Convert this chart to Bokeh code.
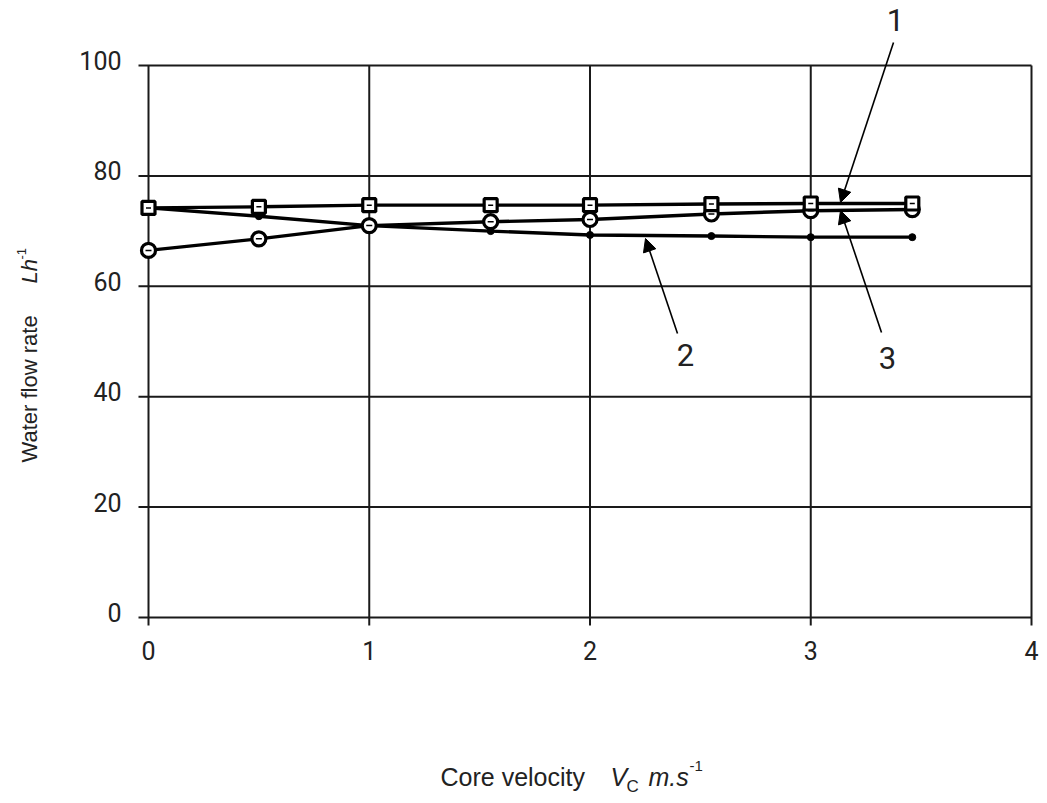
import math
from bokeh.plotting import figure
from bokeh.models import Range1d, Label, Arrow, NormalHead, ColumnDataSource
from bokeh.embed import file_html
from bokeh.resources import INLINE

# ---- data ----
velocity = [0, 0.5, 1.0, 1.55, 2.0, 2.55, 3.0, 3.46]
series1 = [74.2, 74.4, 74.7, 74.7, 74.7, 74.9, 75.0, 75.0]   # squares
series2 = [74.2, 72.7, 71.0, 70.0, 69.3, 69.1, 68.9, 68.9]   # dots
series3 = [66.5, 68.6, 71.0, 71.7, 72.1, 73.1, 73.7, 73.9]   # circles
x_ticks = [0, 1, 2, 3, 4]
y_ticks = [0, 20, 40, 60, 80, 100]
x_tick_labels = ["0", "1", "2", "3", "4"]
y_tick_labels = ["0", "20", "40", "60", "80", "100"]

INK = "#1a1a1a"
TC = "#222222"
W, H = 1047, 803
LEFT, RIGHT_PX, BOTTOM_PX, TOP_PX = 148, 1031, 617, 65
px_per_x = (RIGHT_PX - LEFT) / 4.0
px_per_y = (BOTTOM_PX - TOP_PX) / 100.0

p = figure(width=W, height=H, output_backend="svg", toolbar_location=None,
           x_range=Range1d(-LEFT / px_per_x, (W - LEFT) / px_per_x),
           y_range=Range1d(-(H - BOTTOM_PX) / px_per_y, BOTTOM_PX / px_per_y),
           x_axis_location=None, y_axis_location=None,
           min_border=0)
p.outline_line_color = None
p.grid.visible = False
p.background_fill_color = "white"
p.border_fill_color = "white"


def dx(px):
    return (px - LEFT) / px_per_x


def dy(py):
    return (BOTTOM_PX - py) / px_per_y


y_hi = y_ticks[-1]
x_hi = x_ticks[-1]

# grid / frame lines, with outward ticks
p.segment(x0=x_ticks, y0=[-8 / px_per_y] * len(x_ticks), x1=x_ticks, y1=[y_hi] * len(x_ticks),
          line_color=INK, line_width=2)
p.segment(x0=[-10 / px_per_x] * len(y_ticks), y0=y_ticks, x1=[x_hi] * len(y_ticks), y1=y_ticks,
          line_color=INK, line_width=2)

# tick labels
p.text(x=[dx(121)] * len(y_ticks), y=[t + 5 / px_per_y for t in y_ticks], text=y_tick_labels,
       text_align="right", text_baseline="middle", text_font={"value": "Roboto"},
       text_font_size="25px", text_color=TC)
p.text(x=x_ticks, y=[dy(650)] * len(x_ticks), text=x_tick_labels,
       text_align="center", text_baseline="middle", text_font={"value": "Roboto"},
       text_font_size="25px", text_color=TC)

src = ColumnDataSource(dict(x=velocity, s1=series1, s2=series2, s3=series3))

LW = 3.4
p.line("x", "s2", source=src, line_color="black", line_width=LW)
p.line("x", "s3", source=src, line_color="black", line_width=LW)
p.line("x", "s1", source=src, line_color="black", line_width=LW)

p.scatter("x", "s2", source=src, marker="circle", size=7, fill_color="black", line_color="black")
p.scatter("x", "s3", source=src, marker="circle", size=14, fill_color="white",
          line_color="black", line_width=3.2)
p.scatter("x", "s3", source=src, marker="dash", size=6, line_color="black", line_width=1.5)
p.scatter("x", "s1", source=src, marker="square", size=13, fill_color="white",
          line_color="black", line_width=3.2)
p.scatter("x", "s1", source=src, marker="dash", size=5, line_color="black", line_width=1.5)

# callout arrows and numbers
callouts = [("1", (895, 19), (893, 42), (840, 202)),
            ("2", (685, 354), (677, 333), (645, 238)),
            ("3", (887, 357), (881, 332), (840, 210))]
for txt, (lx, ly), (tx, ty), (hx, hy) in callouts:
    p.add_layout(Arrow(end=NormalHead(size=13, fill_color="black", line_color="black", line_width=1),
                       x_start=dx(tx), y_start=dy(ty), x_end=dx(hx), y_end=dy(hy),
                       line_color="black", line_width=1.6))
    p.add_layout(Label(x=dx(lx), y=dy(ly), text=txt, text_align="center",
                       text_baseline="middle", text_font="Roboto",
                       text_font_size="31px", text_color=TC))

TF = "Liberation Sans"
# x axis title
p.add_layout(Label(x=dx(440), y=dy(776), text="Core velocity", text_font=TF,
                   text_font_size="25px", text_color=TC, text_baseline="middle"))
p.add_layout(Label(x=dx(610), y=dy(776), text="V", text_font=TF, text_font_style="italic",
                   text_font_size="25px", text_color=TC, text_baseline="middle"))
p.add_layout(Label(x=dx(626), y=dy(786), text="C", text_font=TF,
                   text_font_size="17px", text_color=TC, text_baseline="middle"))
p.add_layout(Label(x=dx(648), y=dy(776), text="m.s", text_font=TF, text_font_style="italic",
                   text_font_size="25px", text_color=TC, text_baseline="middle"))
p.add_layout(Label(x=dx(689), y=dy(765), text="-1", text_font=TF,
                   text_font_size="15px", text_color=TC, text_baseline="middle"))

# y axis title (rotated)
ang = math.pi / 2
p.add_layout(Label(x=dx(29), y=dy(462), text="Water flow rate", text_font=TF, angle=ang,
                   text_font_size="22px", text_color=TC, text_baseline="middle"))
p.add_layout(Label(x=dx(29), y=dy(283), text="Lh", text_font=TF, text_font_style="italic", angle=ang,
                   text_font_size="22px", text_color=TC, text_baseline="middle"))
p.add_layout(Label(x=dx(21), y=dy(259), text="-1", text_font=TF, angle=ang,
                   text_font_size="13px", text_color=TC, text_baseline="middle"))

open("out.html", "w").write(file_html(p, INLINE))
